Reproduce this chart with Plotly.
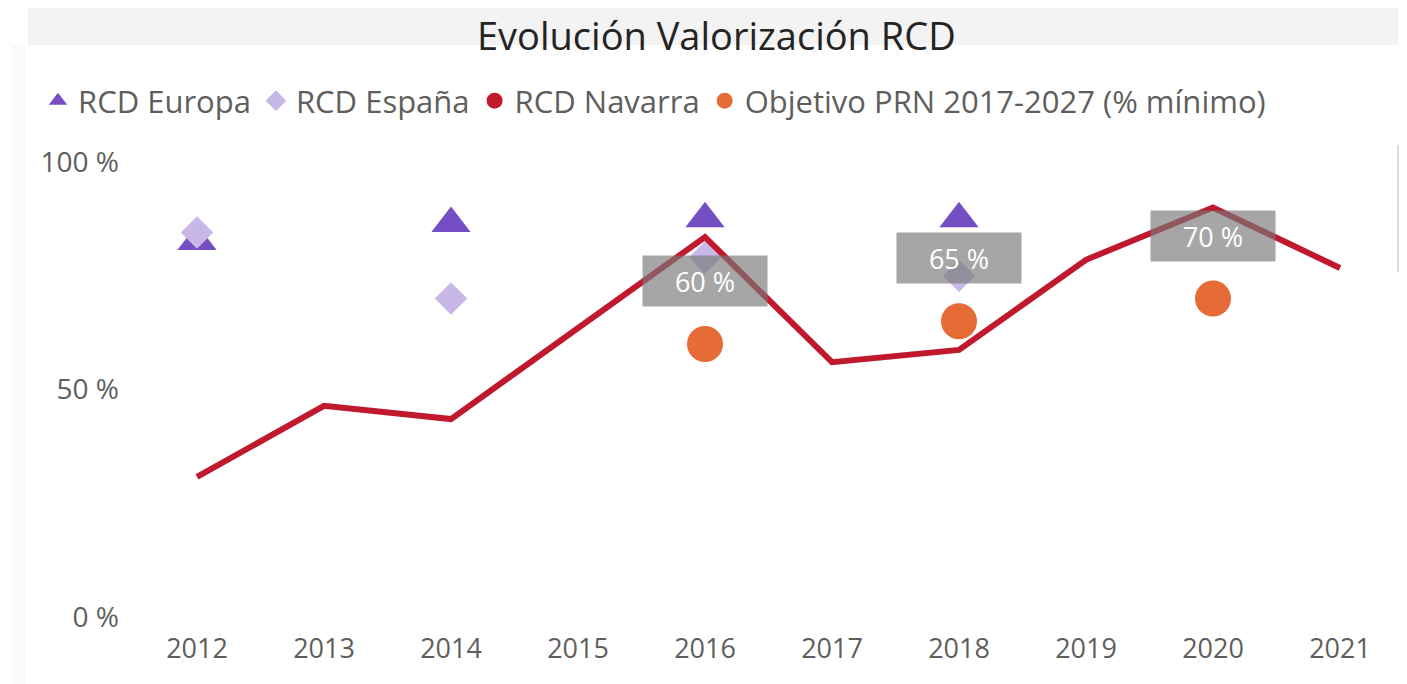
import plotly.graph_objects as go

years = [2012, 2013, 2014, 2015, 2016, 2017, 2018, 2019, 2020, 2021]
navarra = [30.8, 46.4, 43.5, 63.5, 83.5, 56.0, 58.7, 78.5, 90.0, 76.7]

europa_years = [2012, 2014, 2016, 2018]
europa = [82.5, 86.5, 87.5, 87.5]

espana_years = [2012, 2014, 2016, 2018]
espana = [84.5, 70.0, 79.0, 75.0]

objetivo_years = [2016, 2018, 2020]
objetivo = [60, 65, 70]

title_text = "Evolución Valorización RCD"
ytick_vals = [0, 50, 100]
ytick_text = ["0 %", "50 %", "100 %"]

C_EUROPA = "#744EC2"
C_ESPANA = "#C8B8E8"
C_NAVARRA = "#C0192E"
C_OBJ = "#E66C37"
FONT = "Open Sans"
GREY = "#605E5C"

# page has an 8px body margin; figure coords = page coords - 8
OFF = 8
W, H = 1407 - OFF, 684 - OFF
ML, MT = 140 - OFF, 140 - OFF
MR = W - (1390 - OFF)
MB = H - (630 - OFF)
PW, PH = W - ML - MR, H - MT - MB

def px_x(p):
    """page x (reference pixel) -> paper x"""
    return (p - OFF - ML) / PW

def px_y(p):
    """page y (reference pixel) -> paper y"""
    return (H - MB - (p - OFF)) / PH

fig = go.Figure()

fig.add_trace(go.Scatter(
    x=europa_years, y=europa, mode="markers", name="RCD Europa",
    marker=dict(symbol="triangle-up", size=34, color=C_EUROPA),
    hoverinfo="skip"))
fig.add_trace(go.Scatter(
    x=espana_years, y=espana, mode="markers", name="RCD España",
    marker=dict(symbol="diamond", size=25, color=C_ESPANA),
    hoverinfo="skip"))
fig.add_trace(go.Scatter(
    x=years, y=navarra, mode="lines", name="RCD Navarra", showlegend=False,
    line=dict(color=C_NAVARRA, width=6), hoverinfo="skip"))
fig.add_trace(go.Scatter(
    x=[None], y=[None], mode="markers", name="RCD Navarra",
    marker=dict(symbol="circle", size=22, color=C_NAVARRA)))
fig.add_trace(go.Scatter(
    x=objetivo_years, y=objetivo, mode="markers",
    name="Objetivo PRN 2017-2027 (% mínimo)",
    marker=dict(symbol="circle", size=36, color=C_OBJ),
    hoverinfo="skip"))

for xv, yv in zip(objetivo_years, objetivo):
    fig.add_annotation(
        x=xv, y=yv, xref="x", yref="y", text=f"{yv:.0f} %",
        showarrow=False, yshift=63, width=118, height=44, borderpad=3,
        bgcolor="rgba(120,120,120,0.66)",
        font=dict(family=FONT, size=27, color="white"))

# title band
fig.add_shape(type="rect", xref="paper", yref="paper",
              x0=px_x(28), x1=px_x(1398), y0=px_y(45), y1=px_y(8),
              fillcolor="#F3F3F3", line=dict(width=0), layer="below")
fig.add_annotation(xref="paper", yref="paper", x=px_x(716), y=px_y(8),
                   text=title_text, showarrow=False, borderpad=0,
                   xanchor="center", yanchor="top",
                   font=dict(family=FONT, size=38, color="#252423"))
# scrollbar
fig.add_shape(type="rect", xref="paper", yref="paper",
              x0=px_x(1397), x1=px_x(1407), y0=px_y(272), y1=px_y(145),
              fillcolor="#DCDCDC", line=dict(width=0), layer="below")
# faint left strip
fig.add_shape(type="rect", xref="paper", yref="paper",
              x0=px_x(12), x1=px_x(25), y0=px_y(684), y1=px_y(45),
              fillcolor="#FAFAFA", line=dict(width=0), layer="below")

x0 = 2012 - (197 - 140) / 127.0
x1 = 2021 + (1390 - 1340) / 127.0
y0 = -(630 - 617) / 4.55
y1 = 100 + (162 - 140) / 4.55

fig.update_layout(
    width=W, height=H, autosize=False,
    margin=dict(l=ML, r=MR, t=MT, b=MB),
    paper_bgcolor="white", plot_bgcolor="white",
    font=dict(family=FONT, color=GREY),
    showlegend=True,
    legend=dict(orientation="h", x=px_x(38), xanchor="left",
                y=px_y(101), yanchor="middle",
                font=dict(family=FONT, size=31, color=GREY),
                itemwidth=30, tracegroupgap=0, bgcolor="rgba(0,0,0,0)"),
    xaxis=dict(range=[x0, x1], tickvals=years,
               ticktext=[str(y) for y in years],
               showgrid=False, zeroline=False, showline=False,
               ticks="", tickfont=dict(family=FONT, size=27, color=GREY)),
    yaxis=dict(range=[y0, y1], tickvals=ytick_vals, ticktext=ytick_text,
               showgrid=False, zeroline=False, showline=False,
               ticks="", ticklabelstandoff=20,
               tickfont=dict(family=FONT, size=28, color=GREY)),
)

fig.write_html("out.html")
